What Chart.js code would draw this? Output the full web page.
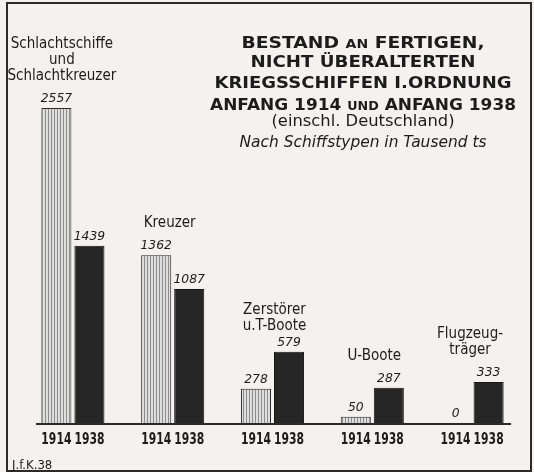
<!DOCTYPE html>
<html>
<head>
<meta charset="utf-8">
<script src="https://cdn.jsdelivr.net/npm/chart.js@4.4.0/dist/chart.umd.min.js"></script>
<style>
html, body { margin: 0; padding: 0; background: #f3f2ee; }
canvas { display: block; }
</style>
</head>
<body>
<canvas id="chart" width="534" height="472"></canvas>
<script>
var years = ['1914', '1938'];
var categories = [
    ['Schlachtschiffe', 'und', 'Schlachtkreuzer'],
    ['Kreuzer'],
    ['Zerstörer', 'u.T-Boote'],
    ['U-Boote'],
    ['Flugzeug-', 'träger']
];
var values1914 = [2557, 1362, 278, 50, 0];
var values1938 = [1439, 1087, 579, 287, 333];
var sourceNote = 'J.f.K.38';

// title lines, split in pieces so the small caps words get a smaller font
var BIG = 'bold 16px "DejaVu Sans"';
var SMALL = 'bold 12px "DejaVu Sans"';
var titleLines = [
    { y: 48, w: 243, parts: [['BESTAND ', BIG], ['AN', SMALL], [' FERTIGEN,', BIG]] },
    { y: 67, w: 225, parts: [['NICHT ÜBERALTERTEN', BIG]] },
    { y: 88, w: 297, parts: [['KRIEGSSCHIFFEN I.ORDNUNG', BIG]] },
    { y: 110, w: 306, parts: [['ANFANG 1914 ', BIG], ['UND', SMALL], [' ANFANG 1938', BIG]] },
    { y: 126, w: 183, parts: [['(einschl. Deutschland)', '15px "DejaVu Sans"']] },
    { y: 147, w: 247, parts: [['Nach Schiffstypen in Tausend ts', 'italic 15px "DejaVu Sans"']] }
];
var titleCenterX = 363;

// nudges for the category captions
var labelShiftX = [-11, -3, 2, 2, -2];
var labelShiftY = [0, 0, 6, 0, 0];

function stripePattern() {
    var c = document.createElement('canvas');
    c.width = 3;
    c.height = 4;
    var g = c.getContext('2d');
    g.fillStyle = '#dedede';
    g.fillRect(0, 0, 3, 4);
    g.fillStyle = '#8e8e8e';
    g.fillRect(0, 0, 1, 4);
    return g.createPattern(c, 'repeat');
}

// draw a line made of several font pieces, squeezed/stretched to a given width
function drawParts(ctx, line, cx) {
    var total = 0;
    line.parts.forEach(function (p) {
        ctx.font = p[1];
        total += ctx.measureText(p[0]).width;
    });
    var sx = line.w / total;
    ctx.save();
    ctx.translate(cx - line.w / 2, line.y);
    ctx.scale(sx, 1);
    var x = 0;
    line.parts.forEach(function (p) {
        ctx.font = p[1];
        ctx.fillText(p[0], x, 0);
        x += ctx.measureText(p[0]).width;
    });
    ctx.restore();
}

function squeezed(ctx, text, x, y, sx) {
    ctx.save();
    ctx.translate(x, y);
    ctx.scale(sx, 1);
    ctx.fillText(text, 0, 0);
    ctx.restore();
}

var decorations = {
    id: 'decorations',
    beforeDraw: function (chart) {
        var ctx = chart.ctx;
        ctx.save();
        ctx.fillStyle = '#f3f2ee';
        ctx.fillRect(0, 0, chart.width, chart.height);
        ctx.restore();
    },
    afterDatasetsDraw: function (chart) {
        var ctx = chart.ctx;
        var area = chart.chartArea;
        var m0 = chart.getDatasetMeta(0).data;
        var m1 = chart.getDatasetMeta(1).data;
        ctx.save();

        // frame
        ctx.strokeStyle = '#2b2b2b';
        ctx.lineWidth = 2;
        ctx.strokeRect(7, 3, 524, 468);

        // base line
        ctx.lineWidth = 2;
        ctx.beginPath();
        ctx.moveTo(36, area.bottom + 1);
        ctx.lineTo(511, area.bottom + 1);
        ctx.stroke();

        ctx.fillStyle = '#1c1c1c';
        ctx.textAlign = 'left';
        ctx.textBaseline = 'alphabetic';
        titleLines.forEach(function (line) {
            drawParts(ctx, line, titleCenterX);
        });

        ctx.textAlign = 'center';
        [m0, m1].forEach(function (bars, d) {
            var vals = d === 0 ? values1914 : values1938;
            bars.forEach(function (bar, i) {
                ctx.font = 'italic 13px "DejaVu Sans"';
                squeezed(ctx, String(vals[i]), bar.x, bar.y - 6, 0.95);
                ctx.font = 'bold 15px "DejaVu Sans Condensed"';
                squeezed(ctx, years[d], bar.x, area.bottom + 21, 0.8);
            });
        });

        ctx.font = '15px "DejaVu Sans"';
        categories.forEach(function (lines, i) {
            var top = Math.min(m0[i].y, m1[i].y);
            var cx = (m0[i].x + m1[i].x) / 2 + labelShiftX[i];
            var last = top - 28 + labelShiftY[i];
            lines.forEach(function (t, k) {
                squeezed(ctx, t, cx, last - (lines.length - 1 - k) * 16, 0.9);
            });
        });

        ctx.textAlign = 'left';
        ctx.font = '13px "DejaVu Sans Condensed"';
        ctx.fillText(sourceNote, 12, 469);
        ctx.restore();
    }
};

var chart = new Chart(document.getElementById('chart'), {
    type: 'bar',
    data: {
        labels: categories,
        datasets: [
            {
                label: years[0],
                data: values1914,
                backgroundColor: stripePattern(),
                borderColor: '#2a2a2a',
                borderWidth: 1
            },
            {
                label: years[1],
                data: values1938,
                backgroundColor: '#262626',
                borderColor: '#151515',
                borderWidth: 1
            }
        ]
    },
    options: {
        responsive: false,
        animation: false,
        events: [],
        layout: { padding: { top: 108, bottom: 49, left: 23, right: 12 } },
        datasets: { bar: { categoryPercentage: 0.662, barPercentage: 0.91 } },
        plugins: {
            legend: { display: false },
            tooltip: { enabled: false },
            title: { display: false }
        },
        scales: {
            x: { display: false },
            y: { display: false, min: 0, max: 2557 }
        }
    },
    plugins: [decorations]
});
</script>
</body>
</html>
